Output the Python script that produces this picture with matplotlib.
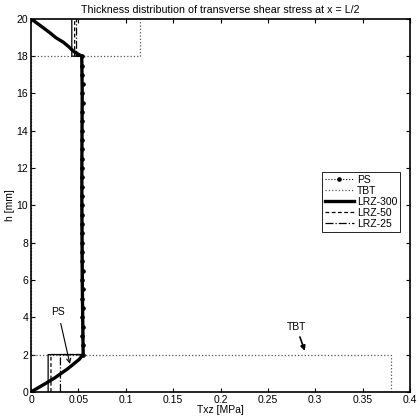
import matplotlib
matplotlib.use("Agg")
import matplotlib.pyplot as plt

plt.rcParams["font.family"] = ["Liberation Sans", "DejaVu Sans"]
plt.rcParams["font.size"] = 7.5

# ── data ───────────────────────────────────────────────────────────────────────

# LRZ-300 (thick solid): bottom skin, core, top skin
lrz300_h = [0, 0.25, 0.5, 0.75, 1.0, 1.25, 1.5, 1.75, 2.0,
            4, 6, 8, 10, 12, 14, 16, 18.0,
            18.25, 18.5, 18.75, 19.0, 19.25, 19.5, 19.75, 20]
lrz300_x = [0, 0.0085, 0.017, 0.025, 0.032, 0.039, 0.045, 0.051, 0.055,
            0.0545, 0.054, 0.0538, 0.0536, 0.0536, 0.0538, 0.054, 0.0535,
            0.045, 0.040, 0.034, 0.026, 0.020, 0.0135, 0.0068, 0]

# LRZ-50 (dashed), LRZ-25 (dash-dot): constant in skins
lrz50_h = [0, 2, 2, 10, 18, 18, 20]
lrz50_x = [0.021, 0.021, 0.055, 0.0537, 0.0535, 0.046, 0.046]
lrz25_h = [0, 2, 2, 10, 18, 18, 20]
lrz25_x = [0.031, 0.031, 0.055, 0.0537, 0.0535, 0.048, 0.048]

# thin solid outline (unlabelled)
thin_h = [0, 2, 2, 18, 18, 20]
thin_x = [0.018, 0.018, 0.055, 0.0535, 0.043, 0.043]

# TBT (dotted), piecewise constant
tbt_h = [0, 2, 2, 18, 18, 20]
tbt_x = [0.38, 0.38, 0.0, 0.0, 0.115, 0.115]

# PS (dotted with dots)
ps_h = [0, 0.5, 1.0, 1.5, 2.0, 2.5, 3.0, 3.5, 4.0, 4.5, 5.0, 5.5, 6.0, 6.5,
        7.0, 7.5, 8.0, 8.5, 9.0, 9.5, 10.0, 10.5, 11.0, 11.5, 12.0, 12.5,
        13.0, 13.5, 14.0, 14.5, 15.0, 15.5, 16.0, 16.5, 17.0, 17.5, 18.0,
        18.5, 19.0, 19.5, 20.0]
ps_x = [0, 0.017, 0.032, 0.045, 0.0548, 0.0545, 0.0542, 0.0546, 0.0541,
        0.0545, 0.054, 0.0544, 0.0539, 0.0543, 0.0538, 0.0542, 0.0538,
        0.0542, 0.0537, 0.0541, 0.0537, 0.0541, 0.0537, 0.0541, 0.0537,
        0.0541, 0.0538, 0.0542, 0.0538, 0.0542, 0.0539, 0.0543, 0.0539,
        0.0543, 0.0538, 0.0542, 0.0535, 0.040, 0.026, 0.0135, 0]

x_ticks = [0, 0.05, 0.1, 0.15, 0.2, 0.25, 0.3, 0.35, 0.4]
x_labels = ["0", "0.05", "0.1", "0.15", "0.2", "0.25", "0.3", "0.35", "0.4"]
y_ticks = [0, 2, 4, 6, 8, 10, 12, 14, 16, 18, 20]

# ── plot ───────────────────────────────────────────────────────────────────────

fig = plt.figure(figsize=(4.2, 4.2), dpi=100)
ax = fig.add_axes([0.074, 0.067, 0.902, 0.888])

ax.plot(ps_x, ps_h, color="black", linestyle=":", linewidth=0.8,
        marker="o", markersize=2.3, markevery=slice(4, 37), label="PS",
        zorder=3)
ax.plot(tbt_x, tbt_h, color="#555555", linestyle=":", linewidth=0.9, label="TBT")
ax.plot(lrz300_x, lrz300_h, color="black", linewidth=2.4, label="LRZ-300",
        zorder=2.5)
ax.plot(lrz50_x, lrz50_h, color="black", linestyle="--", linewidth=0.9,
        dashes=(3, 2), label="LRZ-50")
ax.plot(lrz25_x, lrz25_h, color="black", linestyle="-.", linewidth=0.9,
        label="LRZ-25")
ax.plot(thin_x, thin_h, color="black", linewidth=0.9, label="_nolegend_")

ax.annotate("PS", xy=(0.041, 1.5), xytext=(0.0285, 4.3),
            ha="center", va="center", fontsize=7.5,
            arrowprops=dict(arrowstyle="->", color="black", lw=0.8,
                            shrinkA=3, shrinkB=0))
ax.annotate("TBT", xy=(0.289, 2.2), xytext=(0.28, 3.5),
            ha="center", va="center", fontsize=7.5,
            arrowprops=dict(arrowstyle="-|>", color="black", lw=1.2,
                            mutation_scale=7, shrinkA=2, shrinkB=0))

ax.set_xlim(0, 0.4)
ax.set_ylim(0, 20)
ax.set_xticks(x_ticks)
ax.set_xticklabels(x_labels)
ax.set_yticks(y_ticks)
ax.tick_params(direction="in", top=True, right=True, length=3, width=0.8,
               labelsize=7.5, pad=2)
for s in ax.spines.values():
    s.set_linewidth(1.2)

ax.set_xlabel("Txz [MPa]", fontsize=7.5, labelpad=0)
ax.set_ylabel("h [mm]", fontsize=7.5, labelpad=1)
ax.set_title("Thickness distribution of transverse shear stress at x = L/2",
             fontsize=7.7, pad=4)

leg = ax.legend(loc="upper right", bbox_to_anchor=(0.975, 0.59), fontsize=7.5,
                fancybox=False, framealpha=1, edgecolor="black",
                handlelength=2.8, handletextpad=0.3, labelspacing=0.1,
                borderpad=0.3, borderaxespad=0)
leg.get_frame().set_linewidth(0.6)

fig.savefig("out.png", dpi=100)
